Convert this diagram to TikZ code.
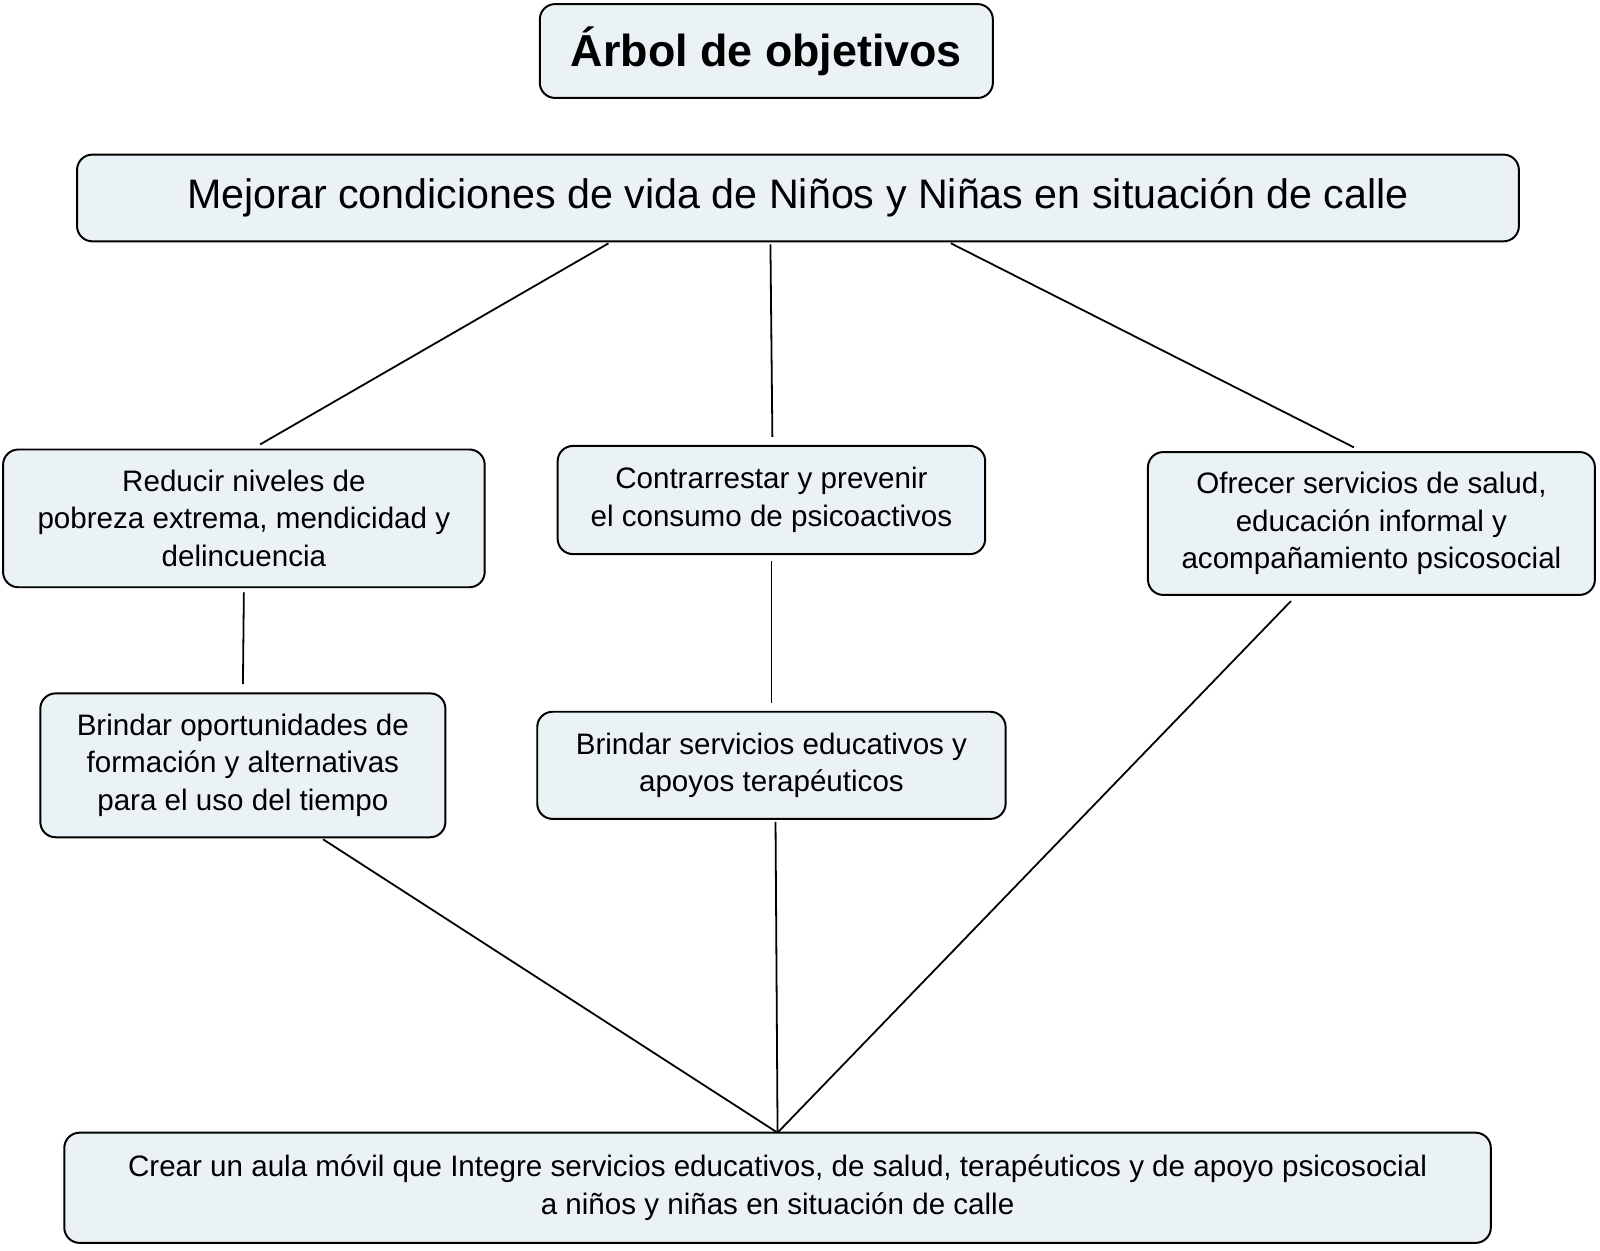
\documentclass[tikz,border=0pt]{standalone}
\usepackage{fontspec}
\setmainfont{Liberation Sans}
\usetikzlibrary{positioning}
\definecolor{boxfill}{RGB}{234,242,246}

\tikzset{
	goal/.style={draw,fill=boxfill,line width=1.1pt,rounded corners=0.3cm,align=center,inner sep=0pt,font=\fontsize{16.5}{21}\selectfont},
	link/.style={line width=1pt,shorten >=0.16cm,shorten <=0.04cm}
}

\begin{document}
\begin{tikzpicture}[x=0.02cm,y=-0.02cm]
	\useasboundingbox (0,0) rectangle (1568,1225) ;
	\node [goal,minimum width=444*0.02cm,minimum height=92*0.02cm,font=\fontsize{25}{30}\selectfont\bfseries] (title) at (751,50) {Árbol de objetivos} ;
	\node [goal,minimum width=1413*0.02cm,minimum height=85*0.02cm,font=\fontsize{23}{28}\selectfont] (main) at (782,194) {Mejorar condiciones de vida de Niños y Niñas en situación de calle} ;
	\node [goal,minimum width=472*0.02cm,minimum height=135*0.02cm] (pobreza) at (239,508) {Reducir niveles de\\pobreza extrema, mendicidad y\\delincuencia} ;
	\node [goal,minimum width=419*0.02cm,minimum height=106*0.02cm] (consumo) at (756,490) {Contrarrestar y prevenir\\el consumo de psicoactivos} ;
	\node [goal,minimum width=438*0.02cm,minimum height=140*0.02cm] (salud) at (1344,513) {Ofrecer servicios de salud,\\educación informal y\\acompañamiento psicosocial} ;
	\node [goal,minimum width=397*0.02cm,minimum height=141*0.02cm] (formacion) at (238,750) {Brindar oportunidades de\\formación y alternativas\\para el uso del tiempo} ;
	\node [goal,minimum width=459*0.02cm,minimum height=105*0.02cm] (servicios) at (756,750) {Brindar servicios educativos y\\apoyos terapéuticos} ;
	\node [goal,minimum width=1398*0.02cm,minimum height=108*0.02cm] (aula) at (762,1164) {Crear un aula móvil que Integre servicios educativos, de salud, terapéuticos y de apoyo psicosocial\\a niños y niñas en situación de calle} ;
	% connectors
	\coordinate (base) at (762,1110) ;
	\draw [link] ([xshift=-3.68cm]main.south) -- ([xshift=0.18cm]pobreza.north) ;
	\draw [link] ([xshift=-0.54cm]main.south) -- ([xshift=0.02cm]consumo.north) ;
	\draw [link] ([xshift=2.96cm]main.south) -- ([xshift=-0.2cm]salud.north) ;
	\draw [link] ([yshift=-0.04cm]pobreza.south) -- (formacion.north) ;
	\draw [link] ([yshift=-0.08cm]consumo.south) -- (servicios.north) ;
	\draw [link,shorten >=0pt] ([xshift=1.54cm]formacion.south) -- (base) ;
	\draw [link,shorten >=0pt] ([xshift=0.08cm]servicios.south) -- (base) ;
	\draw [link,shorten >=0pt,shorten <=0.14cm] ([xshift=-1.48cm]salud.south) -- (base) ;
\end{tikzpicture}
\end{document}
